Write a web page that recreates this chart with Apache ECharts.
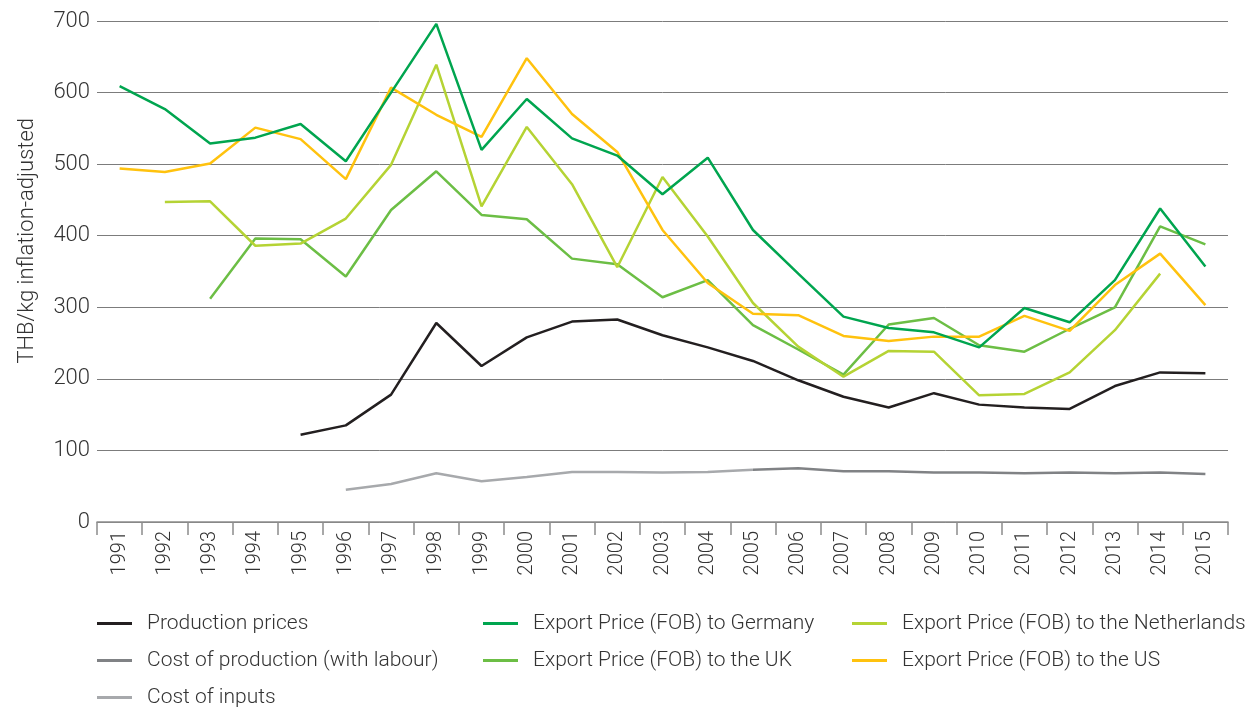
<!DOCTYPE html>
<html>
<head>
<meta charset="utf-8">
<script src="https://cdn.jsdelivr.net/npm/echarts@6/dist/echarts.min.js"></script>
<style>
  html, body { margin: 0; padding: 0; background: #fff; }
  #main { width: 1251px; height: 708px; }
</style>
</head>
<body>
<div id="main"></div>
<script>
var myChart = echarts.init(document.getElementById('main'));

var years = ['1991', '1992', '1993', '1994', '1995', '1996', '1997', '1998', '1999', '2000',
  '2001', '2002', '2003', '2004', '2005', '2006', '2007', '2008', '2009', '2010',
  '2011', '2012', '2013', '2014', '2015'];

var productionPrices = [null, null, null, null, 122, 135, 178, 278, 218, 258,
  280, 283, 261, 244, 225, 198, 175, 160, 180, 164,
  160, 158, 190, 209, 208];

var costProduction = [null, null, null, null, null, null, null, null, null, null,
  null, null, null, null, 73, 75, 71, 71, 69, 69,
  68, 69, 68, 69, 67];

var costInputs = [null, null, null, null, null, 45, 53, 68, 57, 63,
  70, 70, 69, 70, 73, null, null, null, null, null,
  null, null, null, null, null];

var exportGermany = [609, 577, 529, 537, 556, 504, 600, 696, 520, 591,
  536, 512, 458, 509, 408, 347, 287, 271, 265, 244,
  299, 279, 338, 438, 357];

var exportUK = [null, null, 312, 396, 395, 343, 436, 490, 429, 423,
  368, 360, 314, 338, 275, 241, 206, 276, 285, 247,
  238, 270, 300, 413, 388];

var exportNetherlands = [null, 447, 448, 386, 389, 424, 499, 639, 441, 552,
  472, 356, 482, 399, 306, 245, 203, 239, 238, 177,
  179, 209, 268, 347, null];

var exportUS = [494, 489, 501, 551, 535, 479, 607, 569, 538, 648,
  570, 517, 408, 334, 291, 289, 260, 253, 259, 259,
  288, 267, 331, 375, 303];

var fontFamily = 'Roboto, "Noto Sans", sans-serif';
var textColor = '#333333';

function lineSeries(name, data, color) {
  return {
    name: name,
    type: 'line',
    data: data,
    symbol: 'none',
    color: color,
    connectNulls: false,
    lineStyle: { width: 2.5, color: color },
    emphasis: { disabled: true }
  };
}

// one vertical legend per column, like the three columns under the chart
function legendCol(left, names) {
  return {
    orient: 'vertical',
    left: left,
    top: 613,
    height: 120,
    padding: 0,
    icon: 'rect',
    itemWidth: 35,
    itemHeight: 3,
    itemGap: 16,
    data: names,
    textStyle: {
      fontFamily: fontFamily,
      fontWeight: 300,
      fontSize: 21,
      color: textColor,
      padding: [0, 0, 0, 10]
    }
  };
}

var option = {
  backgroundColor: '#fff',
  animation: false,
  grid: {
    left: 97,
    right: 23,
    top: 21,
    bottom: 186
  },
  graphic: [{
    type: 'text',
    left: 16,
    top: 118,
    rotation: Math.PI / 2,
    style: {
      text: 'THB/kg inflation-adjusted',
      fontFamily: fontFamily,
      fontWeight: 300,
      fontSize: 22,
      fill: textColor
    }
  }],
  legend: [
    legendCol(97, ['Production prices', 'Cost of production (with labour)', 'Cost of inputs']),
    legendCol(483, ['Export Price (FOB) to Germany', 'Export Price (FOB) to the UK']),
    legendCol(852, ['Export Price (FOB) to the Netherlands', 'Export Price (FOB) to the US'])
  ],
  xAxis: {
    type: 'category',
    data: years,
    boundaryGap: true,
    axisLine: { lineStyle: { color: '#8c8c8c', width: 1.5 } },
    axisTick: { show: true, interval: 0, length: 13, lineStyle: { color: '#8c8c8c', width: 1.5 } },
    axisLabel: {
      interval: 0,
      rotate: 90,
      margin: 9,
      fontFamily: fontFamily,
      fontWeight: 300,
      fontSize: 20,
      color: textColor
    },
    splitLine: { show: false }
  },
  yAxis: {
    type: 'value',
    min: 0,
    max: 700,
    interval: 100,
    axisLine: { show: false },
    axisTick: { show: false },
    axisLabel: {
      margin: 7,
      fontFamily: fontFamily,
      fontWeight: 300,
      fontSize: 22,
      color: textColor
    },
    splitLine: { lineStyle: { color: '#7c7c7c', width: 1 } }
  },
  series: [
    lineSeries('Cost of inputs', costInputs, '#a7a9ac'),
    lineSeries('Cost of production (with labour)', costProduction, '#808285'),
    lineSeries('Production prices', productionPrices, '#231f20'),
    lineSeries('Export Price (FOB) to the UK', exportUK, '#6cbe45'),
    lineSeries('Export Price (FOB) to the Netherlands', exportNetherlands, '#b5d334'),
    lineSeries('Export Price (FOB) to the US', exportUS, '#ffc20e'),
    lineSeries('Export Price (FOB) to Germany', exportGermany, '#00a54f')
  ]
};

myChart.setOption(option);
</script>
</body>
</html>
